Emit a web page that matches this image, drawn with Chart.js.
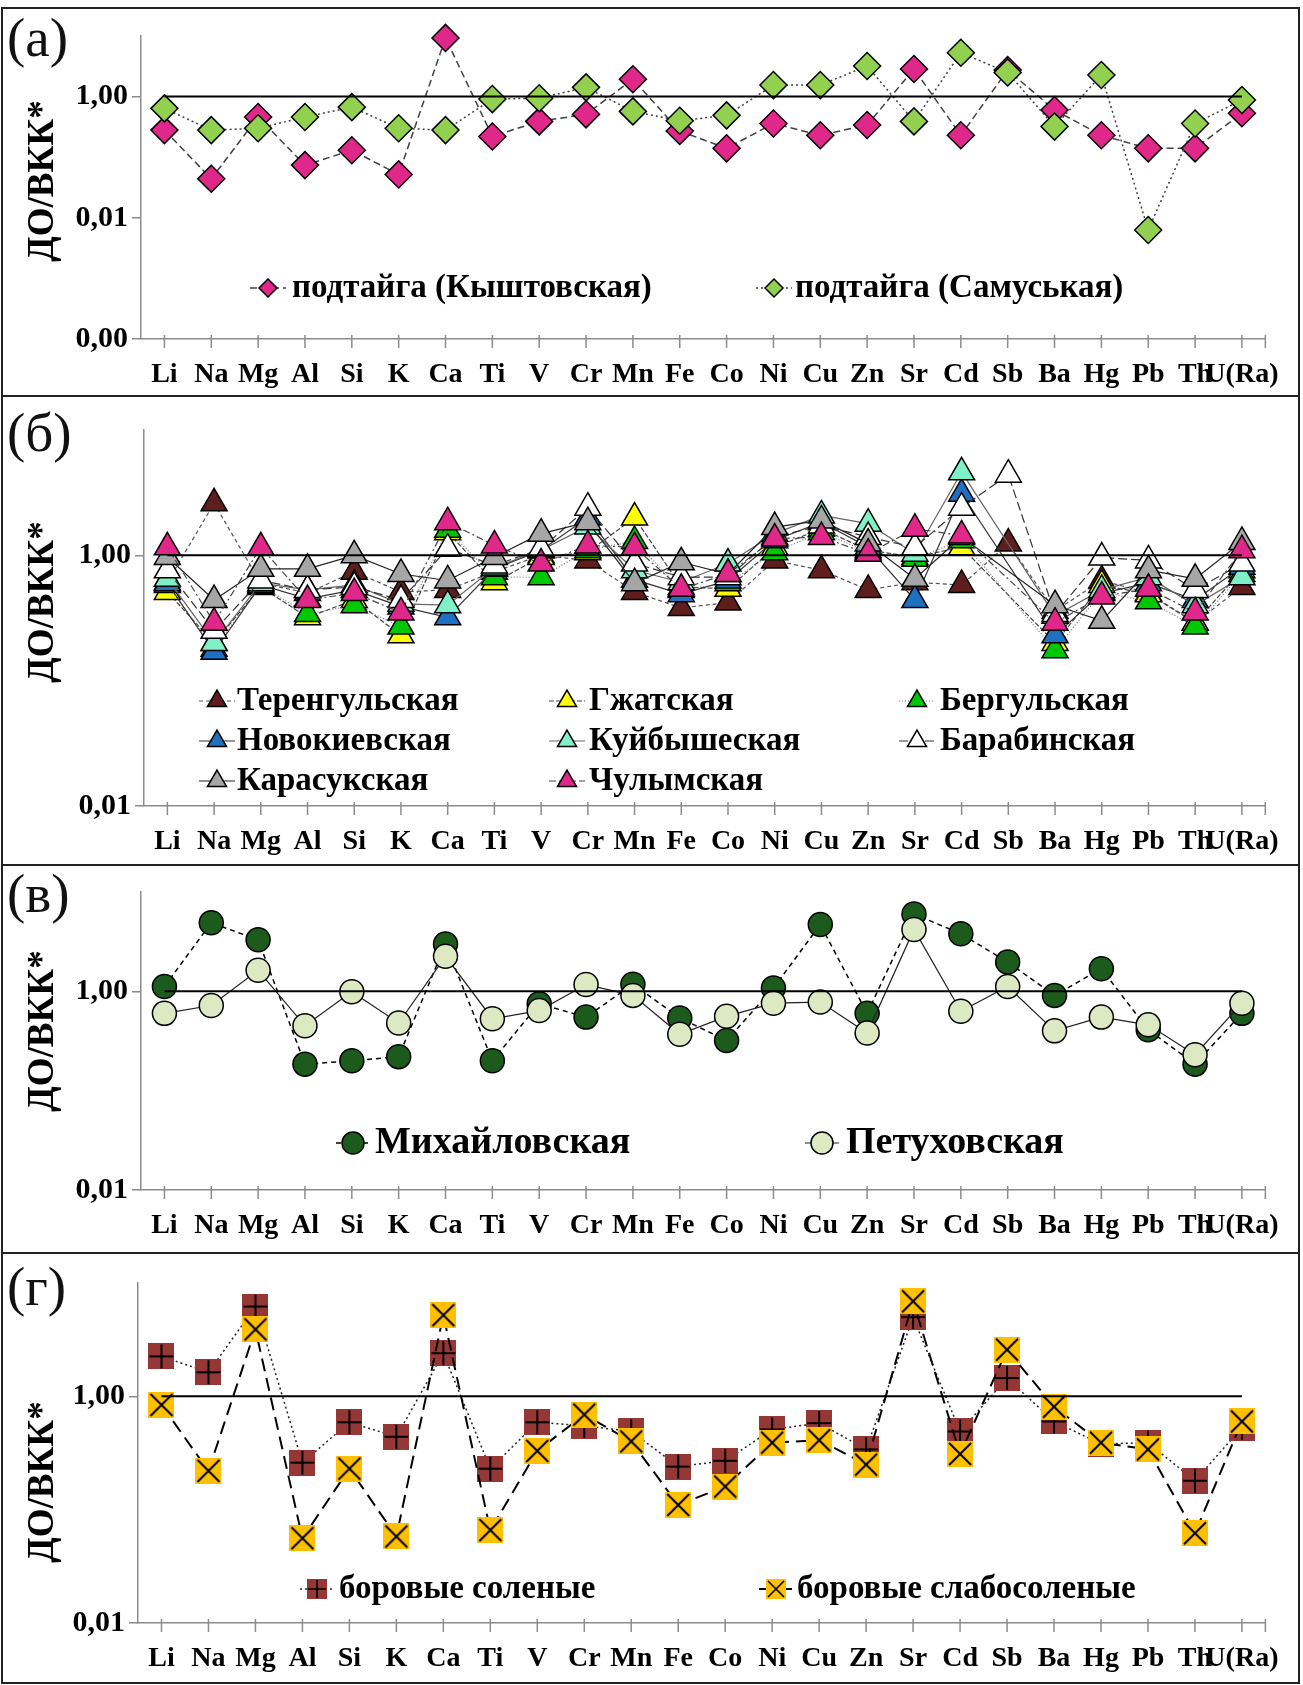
<!DOCTYPE html>
<html>
<head>
<meta charset="utf-8">
<script src="https://cdn.jsdelivr.net/npm/chart.js@4"></script>
<style>
  body { margin: 0; background: #fff; }
  #frame { position: absolute; left: 1px; top: 7px; width: 1299px; box-sizing: border-box; border: 2px solid #222; }
  .panel { position: relative; border-bottom: 2px solid #222; }
  .panel:last-child { border-bottom: none; }
  .panel canvas { display: block; }
  .tag { position: absolute; left: 4px; font: 55px/1 'Liberation Serif', 'Times New Roman', serif; color: #111; }
</style>
</head>
<body>
<div id="frame">
  <div class="panel" style="height:386px"><div class="tag" style="top:1px">(а)</div><canvas id="chartA" width="1295" height="386"></canvas></div>
  <div class="panel" style="height:467px"><div class="tag" style="top:8px">(б)</div><canvas id="chartB" width="1295" height="467"></canvas></div>
  <div class="panel" style="height:386px"><div class="tag" style="top:0px">(в)</div><canvas id="chartC" width="1295" height="386"></canvas></div>
  <div class="panel" style="height:428px"><div class="tag" style="top:5px">(г)</div><canvas id="chartD" width="1295" height="428"></canvas></div>
</div>

<script>
const SERIF = "'Liberation Serif', 'Times New Roman', serif"

const elements = ['Li', 'Na', 'Mg', 'Al', 'Si', 'K', 'Ca', 'Ti', 'V', 'Cr', 'Mn', 'Fe', 'Co', 'Ni', 'Cu', 'Zn', 'Sr', 'Cd', 'Sb', 'Ba', 'Hg', 'Pb', 'Th', 'U(Ra)']
const refLine = [1, 1, 1, 1, 1, 1, 1, 1, 1, 1, 1, 1, 1, 1, 1, 1, 1, 1, 1, 1, 1, 1, 1, 1]

// (а) подтайга
const kyshtovskaya = [0.28, 0.044, 0.46, 0.074, 0.13, 0.052, 9.3, 0.22, 0.39, 0.51, 1.93, 0.27, 0.14, 0.36, 0.23, 0.34, 2.85, 0.23, 2.75, 0.60, 0.23, 0.14, 0.14, 0.53]
const samuskaya = [0.64, 0.28, 0.30, 0.46, 0.67, 0.30, 0.28, 0.91, 0.94, 1.42, 0.57, 0.40, 0.49, 1.55, 1.55, 3.2, 0.39, 5.3, 2.5, 0.32, 2.27, 0.0063, 0.36, 0.88]

// (б) lakes
const terengulskaya = [0.61, 2.6, 0.60, 0.50, 0.74, 0.51, 0.53, 0.74, 1.0, 0.91, 0.51, 0.38, 0.42, 0.91, 0.76, 0.53, 0.61, 0.58, 1.24, 0.36, 0.63, 0.50, 0.29, 0.56]
const gzhatskaya = [0.51, 0.20, 0.56, 0.32, 0.44, 0.23, 1.53, 0.61, 0.97, 1.06, 2.0, 0.56, 0.54, 1.16, 1.63, 1.10, 0.97, 1.16, null, 0.20, 0.58, 0.49, 0.29, 0.76]
const bergulskaya = [0.58, 0.18, 0.57, 0.34, 0.40, 0.27, 1.6, 0.67, 0.67, 1.10, 1.3, 0.53, 0.60, 1.06, 1.53, 1.06, 0.94, 1.32, null, 0.175, 0.51, 0.43, 0.27, 0.71]
const novokievskaya = [0.60, 0.17, 0.58, 0.45, 0.53, 0.39, 0.32, 0.78, 1.10, 2.0, 0.64, 0.49, 0.63, 1.32, 1.84, 1.16, 0.44, 3.1, null, 0.23, 0.50, 0.60, 0.44, 0.81]
const kuibyshevskaya = [0.65, 0.20, 0.60, 0.53, 0.58, 0.41, 0.40, 0.80, 1.10, 1.7, 0.76, 0.61, 0.86, 1.49, 2.08, 1.79, 1.03, 4.6, null, 0.33, 0.53, 0.67, 0.40, 0.67]
const barabinskaya = [0.76, 0.25, 0.63, 0.53, 0.56, 0.44, 1.13, 0.83, 1.13, 2.4, 0.86, 0.67, 0.67, 1.40, 1.73, 1.40, 1.16, 2.4, 4.4, 0.34, 0.96, 0.91, 0.53, 0.86]
const karasukskaya = [0.97, 0.44, 0.78, 0.78, 1.0, 0.71, 0.63, 0.97, 1.49, 1.84, 0.60, 0.88, 0.71, 1.68, 1.90, 1.24, 0.65, 1.40, null, 0.40, 0.30, 0.76, 0.65, 1.28]
const chulymskaya = [1.16, 0.29, 1.16, 0.44, 0.50, 0.35, 1.84, 1.20, 0.86, 1.20, 1.16, 0.54, 0.71, 1.36, 1.40, 1.03, 1.63, 1.44, null, 0.29, 0.47, 0.54, 0.35, 1.10]

// (в)
const mikhailovskaya = [1.12, 4.9, 3.3, 0.185, 0.20, 0.22, 3.0, 0.20, 0.75, 0.55, 1.18, 0.54, 0.32, 1.08, 4.7, 0.60, 6.0, 3.8, 1.97, 0.91, 1.69, 0.41, 0.185, 0.60]
const petukhovskaya = [0.60, 0.72, 1.63, 0.45, 0.99, 0.48, 2.25, 0.53, 0.64, 1.17, 0.91, 0.37, 0.56, 0.76, 0.78, 0.38, 4.2, 0.63, 1.12, 0.40, 0.55, 0.46, 0.23, 0.76]

// (г)
const borovyeSolenye = [2.25, 1.63, 6.2, 0.26, 0.59, 0.44, 2.4, 0.23, 0.59, 0.55, 0.49, 0.24, 0.27, 0.51, 0.58, 0.34, 5.0, 0.49, 1.45, 0.60, 0.38, 0.39, 0.18, 0.53]
const borovyeSlabosolenye = [0.84, 0.22, 3.9, 0.056, 0.23, 0.058, 5.2, 0.066, 0.33, 0.69, 0.40, 0.11, 0.16, 0.39, 0.41, 0.25, 6.9, 0.31, 2.58, 0.81, 0.39, 0.34, 0.062, 0.60]

const ticksA = [0.0001, 0.01, 1]
const ticksOther = [0.01, 1]

function squareIcon(fill, mark, size) {
    const c = document.createElement('canvas')
    c.width = size
    c.height = size
    const g = c.getContext('2d')
    g.fillStyle = fill
    g.fillRect(0, 0, size, size)
    g.strokeStyle = '#000'
    g.lineWidth = size > 22 ? 2 : 1.6
    g.beginPath()
    if (mark === 'plus') {
        g.moveTo(size / 2, 1); g.lineTo(size / 2, size - 1)
        g.moveTo(1, size / 2); g.lineTo(size - 1, size / 2)
    } else {
        g.moveTo(2, 2); g.lineTo(size - 2, size - 2)
        g.moveTo(size - 2, 2); g.lineTo(2, size - 2)
    }
    g.stroke()
    return c
}

function drawMarker(ctx, ds, r, icon, x, y) {
    if (icon) {
        ctx.drawImage(icon, x - icon.width / 2, y - icon.height / 2)
        return
    }
    ctx.setLineDash([])
    ctx.fillStyle = ds.pointBackgroundColor
    ctx.strokeStyle = ds.pointBorderColor
    ctx.lineWidth = ds.pointBorderWidth
    ctx.beginPath()
    if (ds.pointStyle === 'rectRot') {
        ctx.moveTo(x, y - r); ctx.lineTo(x + r, y); ctx.lineTo(x, y + r); ctx.lineTo(x - r, y)
        ctx.closePath()
    } else if (ds.pointStyle === 'triangle') {
        ctx.moveTo(x, y - r)
        ctx.lineTo(x + r * 0.866, y + r / 2)
        ctx.lineTo(x - r * 0.866, y + r / 2)
        ctx.closePath()
    } else {
        ctx.arc(x, y, r, 0, Math.PI * 2)
    }
    ctx.fill()
    ctx.stroke()
}

// tick marks crossing the category axis, the rotated y title and the legend inside the plot
const panelDecor = {
    id: 'panelDecor',
    afterDraw(chart, args, opts) {
        const ctx = chart.ctx
        const xs = chart.scales.x
        const bottom = chart.chartArea.bottom
        ctx.save()
        ctx.strokeStyle = '#8c8c8c'
        ctx.lineWidth = 1.5
        const marks = chart.data.labels.map((l, i) => xs.getPixelForValue(i))
        marks.push(chart.chartArea.right)
        marks.forEach(px => {
            ctx.beginPath()
            ctx.moveTo(px, bottom - 4)
            ctx.lineTo(px, bottom + 9)
            ctx.stroke()
        })

        ctx.save()
        ctx.translate(opts.title.x, opts.title.y)
        ctx.rotate(-Math.PI / 2)
        ctx.fillStyle = '#000'
        ctx.font = 'bold 37px ' + SERIF
        ctx.textAlign = 'center'
        ctx.textBaseline = 'middle'
        ctx.fillText('ДО/ВКК*', 0, 0)
        ctx.restore()

        const lg = opts.legend
        lg.items.forEach(item => {
            const ds = chart.data.datasets[item.ds]
            ctx.setLineDash(ds.borderDash || [])
            ctx.strokeStyle = ds.borderColor
            ctx.lineWidth = ds.borderWidth
            ctx.beginPath()
            ctx.moveTo(item.cx - lg.half, item.cy)
            ctx.lineTo(item.cx + lg.half, item.cy)
            ctx.stroke()
            drawMarker(ctx, ds, lg.r, item.icon, item.cx, item.cy)
            ctx.fillStyle = '#000'
            ctx.font = 'bold ' + lg.font + 'px ' + SERIF
            ctx.textAlign = 'left'
            ctx.textBaseline = 'middle'
            ctx.fillText(ds.label, item.tx, item.cy)
        })
        ctx.restore()
    }
}

function series(label, data, color, style, radius, dash, lineColor, lineWidth) {
    return {
        label: label,
        data: data,
        borderColor: lineColor,
        borderWidth: lineWidth,
        borderDash: dash,
        tension: 0,
        spanGaps: true,
        clip: false,
        pointStyle: style,
        pointRadius: radius,
        pointBackgroundColor: color,
        pointBorderColor: '#000',
        pointBorderWidth: 1.5
    }
}

function makeChart(id, cfg) {
    const n = cfg.datasets.length
    cfg.datasets.forEach((d, i) => { d.order = n - i })
    const datasets = cfg.datasets.concat([{
        label: '', data: refLine, borderColor: '#000', borderWidth: 2, pointRadius: 0, order: 0
    }])
    const axisFont = { family: SERIF, size: 28, weight: 'bold' }
    return new Chart(document.getElementById(id), {
        type: 'line',
        data: { labels: elements, datasets: datasets },
        options: {
            responsive: false,
            animation: false,
            devicePixelRatio: 1,
            layout: { padding: { top: cfg.top, right: 26, left: 0, bottom: 0 } },
            plugins: {
                legend: { display: false },
                tooltip: { enabled: false },
                panelDecor: { title: cfg.title, legend: cfg.legend }
            },
            scales: {
                x: {
                    type: 'category',
                    offset: true,
                    grid: { display: false, drawTicks: false },
                    border: { display: true, color: '#8c8c8c', width: 1.5 },
                    ticks: { autoSkip: false, maxRotation: 0, minRotation: 0, padding: 19, color: '#000', font: axisFont },
                    afterFit: s => { s.height = cfg.xh }
                },
                y: {
                    type: 'logarithmic',
                    min: cfg.min,
                    max: 10,
                    afterBuildTicks: s => { s.ticks = cfg.yticks.map(v => ({ value: v })) },
                    grid: { display: true, drawOnChartArea: false, drawTicks: true, tickLength: 9, color: '#8c8c8c', lineWidth: 1.5 },
                    border: { display: true, color: '#8c8c8c', width: 1.5 },
                    ticks: {
                        padding: 4,
                        color: '#000',
                        font: { family: SERIF, size: 30, weight: 'bold' },
                        callback: v => Number(v).toFixed(2).replace('.', ',')
                    },
                    afterFit: s => { s.width = cfg.left }
                }
            }
        },
        plugins: [panelDecor]
    })
}

const PINK = '#E0288A'

makeChart('chartA', {
    top: 27, xh: 56, left: 138, min: 0.0001, yticks: ticksA,
    title: { x: 40, y: 172 },
    datasets: [
        series('подтайга (Кыштовская)', kyshtovskaya, PINK, 'rectRot', 13.5, [7, 4], '#404040', 1.5),
        series('подтайга (Самуськая)', samuskaya, '#92D050', 'rectRot', 13.5, [2, 3], '#404040', 1.5)
    ],
    legend: { font: 33, half: 18, r: 9, items: [
        { ds: 0, cx: 265, cy: 279, tx: 289 },
        { ds: 1, cx: 771, cy: 279, tx: 792 }
    ] }
})

makeChart('chartB', {
    top: 33, xh: 58, left: 141, min: 0.01, yticks: ticksOther,
    title: { x: 40, y: 205 },
    datasets: [
        series('Теренгульская', terengulskaya, '#5E1E1E', 'triangle', 15, [4, 3], '#555', 1.2),
        series('Гжатская', gzhatskaya, '#FFFF00', 'triangle', 15, [5, 2], '#444', 1.2),
        series('Бергульская', bergulskaya, '#00C800', 'triangle', 15, [1, 2], '#777', 1.2),
        series('Новокиевская', novokievskaya, '#1F70C0', 'triangle', 15, [], '#333', 1.2),
        series('Куйбышеская', kuibyshevskaya, '#80F0C8', 'triangle', 15, [], '#666', 1.2),
        series('Барабинская', barabinskaya, '#FFFFFF', 'triangle', 15, [9, 4], '#333', 1.2),
        series('Карасукская', karasukskaya, '#A6A6A6', 'triangle', 15, [], '#222', 1.2),
        series('Чулымская', chulymskaya, PINK, 'triangle', 15, [7, 3, 2, 3], '#444', 1.2)
    ],
    legend: { font: 33, half: 18, r: 11, items: [
        { ds: 0, cx: 214, cy: 304, tx: 234 },
        { ds: 1, cx: 564, cy: 304, tx: 586 },
        { ds: 2, cx: 914, cy: 304, tx: 937 },
        { ds: 3, cx: 214, cy: 344, tx: 234 },
        { ds: 4, cx: 564, cy: 344, tx: 586 },
        { ds: 5, cx: 914, cy: 344, tx: 937 },
        { ds: 6, cx: 214, cy: 384, tx: 234 },
        { ds: 7, cx: 564, cy: 384, tx: 586 }
    ] }
})

makeChart('chartC', {
    top: 26, xh: 62, left: 138, min: 0.01, yticks: ticksOther,
    title: { x: 40, y: 165 },
    datasets: [
        series('Михайловская', mikhailovskaya, '#1D5B1D', 'circle', 12, [5, 4], '#000', 1.5),
        series('Петуховская', petukhovskaya, '#DDE9C2', 'circle', 12, [], '#222', 1.2)
    ],
    legend: { font: 38, half: 17, r: 11, items: [
        { ds: 0, cx: 350, cy: 277, tx: 372 },
        { ds: 1, cx: 819, cy: 277, tx: 843 }
    ] }
})

makeChart('chartD', {
    top: 29, xh: 59, left: 135, min: 0.01, yticks: ticksOther,
    title: { x: 40, y: 228 },
    datasets: [
        series('боровые соленые', borovyeSolenye, '#953735', squareIcon('#953735', 'plus', 26), 13, [2, 3], '#222', 1.5),
        series('боровые слабосоленые', borovyeSlabosolenye, '#FFC000', squareIcon('#FFC000', 'cross', 26), 13, [13, 7], '#000', 2)
    ],
    legend: { font: 33, half: 17, r: 10, items: [
        { ds: 0, cx: 314, cy: 335, tx: 336, icon: squareIcon('#953735', 'plus', 20) },
        { ds: 1, cx: 773, cy: 335, tx: 794, icon: squareIcon('#FFC000', 'cross', 20) }
    ] }
})
</script>
</body>
</html>
